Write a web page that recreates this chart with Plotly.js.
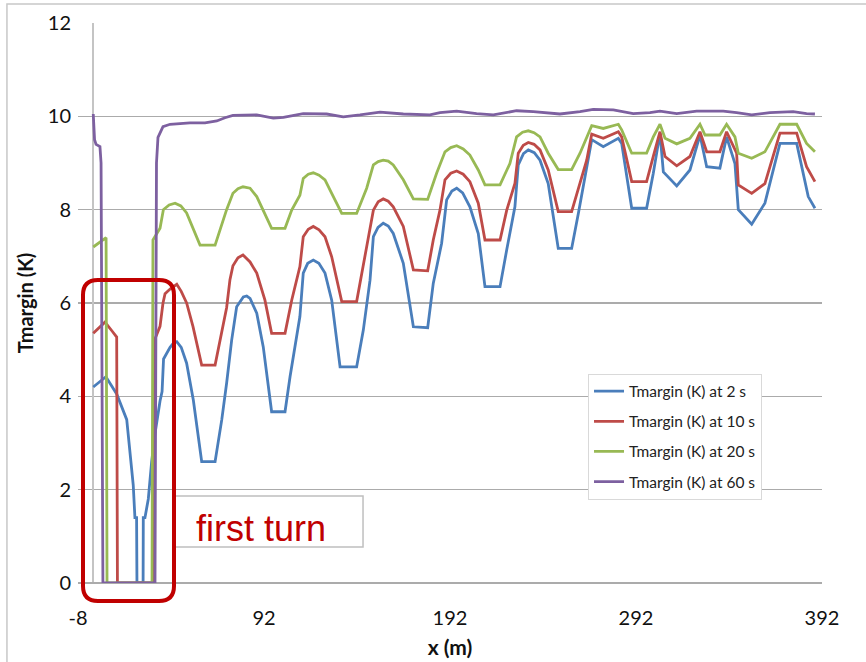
<!DOCTYPE html>
<html>
<head>
<meta charset="utf-8">
<script src="https://cdn.plot.ly/plotly-3.0.1.min.js"></script>
<style>html,body{margin:0;padding:0;background:#fff;}#chart{width:866px;height:662px;}</style>
</head>
<body>
<div id="chart"></div>
<script>
// ---- data ----
var seriesNames = ["Tmargin (K) at 2 s", "Tmargin (K) at 10 s", "Tmargin (K) at 20 s", "Tmargin (K) at 60 s"];
var xTickVals = [-8, 92, 192, 292, 392];

var x2 = [0.2,7.0,12.8,18.2,21.7,22.6,23.5,23.7,27.0,27.1,28.0,29.8,31.6,33.4,36.1,37.2,38.0,41.5,43.3,45.1,47.5,50.4,54.0,58.5,65.7,69.3,71.9,74.6,77.3,80.9,82.7,84.5,88.1,91.6,96.1,103.3,106.0,109.6,111.3,113.1,115.5,118.5,121.5,124.8,128.4,132.9,141.8,145.4,149.0,150.8,153.3,156.1,158.8,161.5,166.9,172.3,180.0,183.0,187.5,190.2,193.0,195.6,198.8,202.7,207.2,210.8,218.9,222.5,226.9,228.7,231.5,234.1,237.3,240.4,244.8,250.2,257.4,261.0,265.5,268.2,274.4,282.5,284.3,289.7,297.7,301.3,304.9,306.7,313.9,321.0,326.4,330.0,337.1,340.7,345.2,347.0,354.2,361.3,369.4,378.4,384.6,388.2];
var y2 = [4.2,4.42,4.05,3.5,2.1,1.4,1.4,0,0,1.4,1.4,1.8,2.6,3.2,3.9,4.1,4.8,5.05,5.14,5.17,5.05,4.71,3.92,2.6,2.6,3.5,4.28,5.2,5.92,6.13,6.15,6.1,5.78,5.06,3.67,3.67,4.42,5.35,5.71,6.64,6.85,6.92,6.85,6.64,6.06,4.63,4.63,5.42,6.49,7.42,7.62,7.71,7.65,7.49,6.85,5.49,5.47,6.42,7.28,8.21,8.4,8.46,8.36,8.06,7.49,6.35,6.35,7.14,8.06,8.96,9.2,9.28,9.22,9.06,8.56,7.17,7.17,7.92,8.92,9.5,9.35,9.53,9.42,8.03,8.03,8.78,9.64,8.81,8.51,8.85,9.6,8.92,8.89,9.56,8.99,8.0,7.69,8.14,9.42,9.42,8.28,8.03];

var x10 = [0.2,6.5,10.3,12.8,13.2,32.6,33.1,36.1,37.7,38.8,41.5,45.1,47.5,50.4,53.8,58.5,65.7,68.9,71.9,73.7,75.3,78.0,80.7,84.5,88.1,92.5,96.1,103.3,106.9,111.3,113.1,115.8,118.5,121.6,124.8,128.4,133.8,141.8,147.2,150.8,153.4,156.1,158.8,161.5,166.9,172.3,180.0,183.0,186.6,189.3,192.4,195.6,199.1,202.7,207.2,210.8,218.9,222.5,226.9,228.7,231.4,234.1,237.2,240.4,244.8,250.2,257.4,261.9,265.5,268.2,274.4,282.5,284.3,289.7,297.7,301.3,304.9,307.6,313.9,321.0,326.4,330.0,337.1,340.7,346.1,347.0,354.2,361.3,369.4,378.4,383.7,388.2];
var y10 = [5.35,5.59,5.4,5.27,0,0,5.2,5.5,6.0,6.2,6.3,6.4,6.25,6.0,5.5,4.67,4.67,5.3,5.9,6.5,6.8,6.97,7.03,6.88,6.64,6.06,5.35,5.35,6.06,6.78,7.42,7.58,7.64,7.57,7.42,6.99,6.03,6.03,7.21,7.99,8.17,8.23,8.18,8.06,7.64,6.71,6.69,7.35,7.99,8.64,8.78,8.83,8.76,8.6,8.14,7.35,7.35,7.99,8.56,9.21,9.38,9.44,9.4,9.28,8.85,7.96,7.96,8.56,9.06,9.62,9.53,9.67,9.56,8.6,8.6,9.14,9.67,9.14,8.94,9.14,9.67,9.24,9.24,9.67,9.21,8.53,8.35,8.56,9.64,9.64,8.92,8.6];

var x20 = [0.2,6.5,7.1,7.6,31.8,32.3,36.1,37.9,41.0,44.2,47.3,50.4,57.6,65.7,71.9,75.3,78.0,80.7,84.5,88.1,92.5,96.1,103.3,106.9,111.3,113.1,115.8,118.5,121.6,124.8,128.4,133.8,141.8,147.2,150.8,153.4,156.1,158.8,161.5,166.9,172.3,180.0,184.8,189.3,192.4,195.6,199.1,202.7,207.2,210.8,218.9,224.2,227.8,231.0,234.1,237.2,240.4,244.8,250.2,257.4,261.9,265.5,268.2,274.4,282.5,284.3,289.7,297.7,301.3,304.9,307.6,313.9,321.0,326.4,329.1,337.1,340.7,345.2,347.0,354.2,361.3,369.4,378.4,383.7,388.2];
var y20 = [7.2,7.39,7.4,0,0,7.35,7.6,8.0,8.1,8.14,8.08,7.93,7.24,7.24,8.0,8.35,8.45,8.49,8.46,8.28,7.92,7.6,7.6,7.99,8.31,8.67,8.76,8.79,8.74,8.64,8.35,7.92,7.92,8.46,8.96,9.03,9.06,9.04,8.96,8.64,8.23,8.22,8.78,9.24,9.33,9.37,9.3,9.17,8.85,8.53,8.53,8.99,9.56,9.66,9.69,9.65,9.56,9.21,8.86,8.86,9.21,9.56,9.8,9.74,9.83,9.71,9.21,9.21,9.56,9.83,9.53,9.41,9.53,9.83,9.6,9.6,9.83,9.56,9.21,9.1,9.24,9.83,9.83,9.42,9.24];

var x60 = [0.2,0.9,1.7,3.8,4.4,5.4,33.4,34.2,35.0,37.7,41.5,52.2,60.3,66.6,71.0,75.3,88.1,97.0,102.4,113.1,125.7,134.6,143.6,154.4,166.9,181.2,186.6,195.6,206.3,215.3,227.8,236.8,251.1,261.9,269.0,279.8,290.5,299.5,304.9,313.9,324.6,338.9,346.1,354.2,364.0,376.5,383.7,388.2];
var y60 = [10.05,9.5,9.4,9.35,9.0,0,0,9.0,9.55,9.78,9.83,9.86,9.86,9.9,9.97,10.02,10.03,9.96,9.98,10.06,10.05,9.99,10.03,10.09,10.05,10.03,10.08,10.11,10.06,10.03,10.12,10.1,10.05,10.1,10.15,10.14,10.06,10.08,10.11,10.06,10.11,10.11,10.08,10.03,10.08,10.1,10.06,10.05];

var colors = ["#4A7EBB", "#BE4B48", "#98B954", "#7D60A0"];
var xs = [x2, x10, x20, x60];
var ys = [y2, y10, y20, y60];

var traces = xs.map(function (xv, i) {
  return {
    type: "scatter", mode: "lines",
    x: xv, y: ys[i], name: seriesNames[i],
    legendgroup: "g" + i,
    line: {color: colors[i], width: 2.8},
    hoverinfo: "skip"
  };
});

var F = "Lato, 'Open Sans', sans-serif";
var layout = {
  width: 866, height: 662,
  margin: {l: 78, r: 44, t: 23, b: 79},
  paper_bgcolor: "#ffffff", plot_bgcolor: "#ffffff",
  showlegend: true,
  legend: {
    x: 0.6855, y: 0.374, xanchor: "left", yanchor: "top",
    bgcolor: "#ffffff", bordercolor: "#d9d9d9", borderwidth: 1,
    font: {family: F, size: 15.5, color: "#222"},
    tracegroupgap: 7, traceorder: "grouped"
  },
  xaxis: {
    range: [-8, 392], tickvals: xTickVals, ticktext: xTickVals.map(String),
    showgrid: false, zeroline: true, zerolinecolor: "#c4c4c4", zerolinewidth: 1.3,
    showline: false, ticks: "", ticklabelstandoff: 21,
    tickfont: {family: F, size: 20, color: "#111"},
    title: {text: "<b>x (m)</b>", font: {family: F, size: 21, color: "#111"}, standoff: 12}
  },
  yaxis: {
    range: [0, 12], dtick: 2, tick0: 0,
    showgrid: true, gridcolor: "#ababab", gridwidth: 1.2,
    zeroline: true, zerolinecolor: "#ababab", zerolinewidth: 1.2,
    showline: false, ticks: "", ticklabelstandoff: 6,
    tickfont: {family: F, size: 20, color: "#111"},
    title: {text: "<b>Tmargin (K)</b>", font: {family: F, size: 20, color: "#111"}, standoff: 8}
  },
  shapes: [
    {type: "rect", xref: "paper", yref: "paper", x0: -0.0955, x1: 1.08, y0: -0.2, y1: 1.0339,
     line: {color: "#c8c8c8", width: 1.5}, fillcolor: "rgba(0,0,0,0)", layer: "below"},
    {type: "rect", xref: "paper", yref: "paper", x0: 0.129, x1: 0.3831, y0: 0.0643, y1: 0.1554,
     line: {color: "#bfbfbf", width: 1.5}, fillcolor: "#ffffff", layer: "above"},
    {type: "path", xref: "paper", yref: "paper", layer: "above",
     path: "M0.02688,0.54107 L0.10887,0.54107 Q0.12903,0.54107 0.12903,0.51428 L0.12903,-0.00535 Q0.12903,-0.03214 0.10887,-0.03214 L0.02688,-0.03214 Q0.00672,-0.03214 0.00672,-0.00535 L0.00672,0.51428 Q0.00672,0.54107 0.02688,0.54107 Z",
     line: {color: "#C00000", width: 4}, fillcolor: "rgba(0,0,0,0)"}
  ],
  annotations: [
    {xref: "paper", yref: "paper", x: 0.1559, y: 0.0982, xanchor: "left", yanchor: "middle",
     text: "first turn", showarrow: false,
     font: {family: "'Liberation Sans', Arial, sans-serif", size: 36, color: "#C00000"}}
  ]
};

Plotly.newPlot("chart", traces, layout, {staticPlot: true, displayModeBar: false});
</script>
</body>
</html>
